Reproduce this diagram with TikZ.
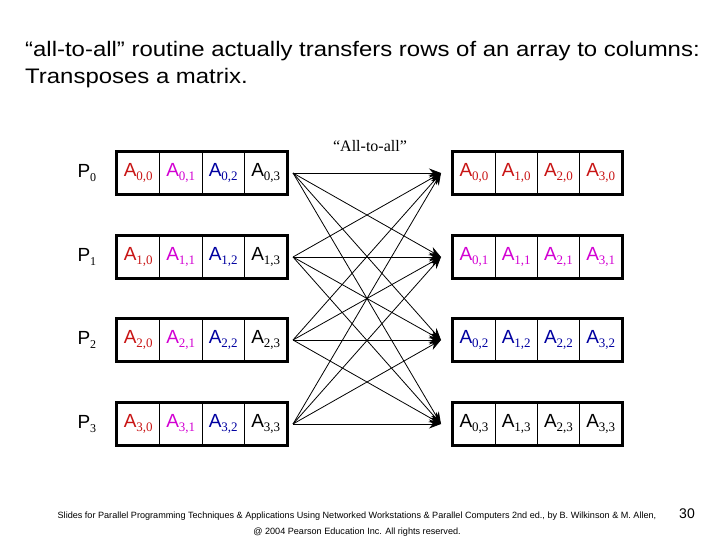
\documentclass[tikz,border=0pt]{standalone}
\usepackage{fontspec}
\setmainfont{Liberation Sans}
\newfontfamily\tms{Liberation Serif}
\newfontfamily\wide[FakeStretch=1.14]{Liberation Sans}
\usetikzlibrary{arrows.meta}
\definecolor{cred}{RGB}{200,20,20}
\definecolor{cmag}{RGB}{210,0,210}
\definecolor{cblu}{RGB}{0,0,160}
\definecolor{cblk}{RGB}{0,0,0}
\newcommand{\Aij}[2]{A\raisebox{-0.35ex}{\tms\fontsize{13}{14}\selectfont #1,#2}}
\begin{document}
\begin{tikzpicture}[x=1pt,y=-1pt,
  cell/.style={draw,line width=0.8pt,minimum width=42.5pt,minimum height=42pt,inner sep=0pt,anchor=center,font=\fontsize{19}{21}\selectfont},
  outer/.style={draw,line width=3pt},
  pl/.style={anchor=west,font=\fontsize{19}{21}\selectfont},
  link/.style={line width=0.8pt,-{Stealth[length=12pt,width=9pt]}}]
\useasboundingbox (0,0) rectangle (720,540);
% title
\node[anchor=base west,inner sep=0pt,font=\wide\fontsize{21}{24}\selectfont] (t1) at (25,57) {“all-to-all” routine actually transfers rows of an array to columns:};
\node[anchor=base west,inner sep=0pt,font=\wide\fontsize{21}{24}\selectfont] (t2) at (25,84) {Transposes a matrix.};
\node[font=\tms\fontsize{16}{18}\selectfont] (ata) at (370,146) {“All-to-all”};
\foreach \i/\y in {0/173,1/257,2/340,3/424}{
  \node[pl] (P\i) at (74,\y) {P\raisebox{-0.4ex}{\tms\fontsize{12}{13}\selectfont\i}};
  \foreach \j/\c in {0/cred,1/cmag,2/cblu,3/cblk}{
    \node[cell,text=\c] (L\i\j) at ({138.25+42.5*\j},\y) {\Aij{\i}{\j}};
  }
  \draw[outer] (L\i0.north west) rectangle (L\i3.south east);
}
\foreach \j/\y/\c in {0/173/cred,1/257/cmag,2/340/cblu,3/424/cblk}{
  \foreach \i in {0,1,2,3}{
    \node[cell,text=\c] (R\j\i) at ({474+42.25*\i},\y) {\Aij{\i}{\j}};
  }
  \draw[outer] (R\j0.north west) rectangle (R\j3.south east);
}
\foreach \i/\y in {0/173,1/257,2/340,3/424}{
  \coordinate (s\i) at (293,\y);
  \coordinate (e\i) at (441,\y);
}
\foreach \i in {0,1,2,3}{
  \foreach \j in {0,1,2,3}{
    \draw[link] (s\i) -- (e\j);
  }
}
% footer
\node[font=\fontsize{9.1}{10}\selectfont,inner sep=0pt] (f1) at (357,516) {Slides for Parallel Programming Techniques \& Applications Using Networked Workstations \& Parallel Computers 2nd ed., by B. Wilkinson \& M. Allen,};
\node[font=\fontsize{9.1}{10}\selectfont,inner sep=0pt] (f2) at (357,532) {@ 2004 Pearson Education Inc. All rights reserved.};
\node[font=\fontsize{14}{15}\selectfont,inner sep=0pt] (pg) at (687,514) {30};
\end{tikzpicture}
\end{document}
